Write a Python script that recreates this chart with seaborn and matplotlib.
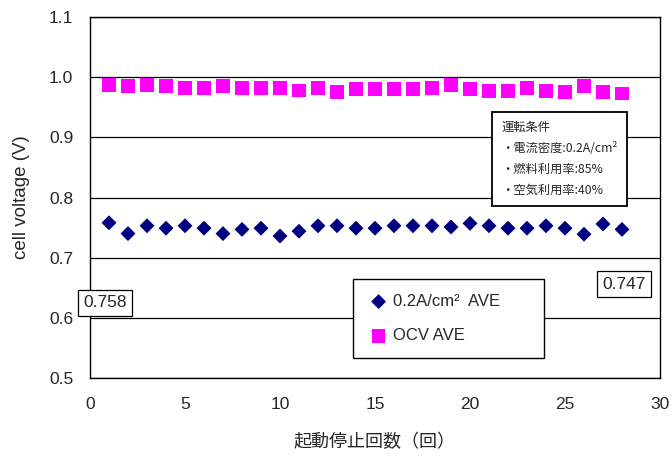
import pandas as pd
import seaborn as sns
import matplotlib.pyplot as plt

# 起動停止回数
cycles = [1, 2, 3, 4, 5, 6, 7, 8, 9, 10, 11, 12, 13, 14,
          15, 16, 17, 18, 19, 20, 21, 22, 23, 24, 25, 26, 27, 28]
# 0.2A/cm2 AVE
v_load = [0.758, 0.740, 0.753, 0.749, 0.753, 0.749, 0.740, 0.747, 0.749, 0.736,
          0.744, 0.753, 0.753, 0.749, 0.749, 0.753, 0.753, 0.753, 0.751, 0.757,
          0.753, 0.749, 0.749, 0.753, 0.749, 0.739, 0.756, 0.747]
# OCV AVE
v_ocv = [0.987, 0.985, 0.987, 0.985, 0.982, 0.982, 0.985, 0.982, 0.982, 0.982,
         0.978, 0.982, 0.975, 0.980, 0.980, 0.980, 0.980, 0.982, 0.987, 0.980,
         0.977, 0.977, 0.982, 0.977, 0.975, 0.985, 0.975, 0.973]

label_load = "0.2A/cm²  AVE"
label_ocv = "OCV AVE"
conditions = ["運転条件", "・電流密度:0.2A/cm²", "・燃料利用率:85%", "・空気利用率:40%"]

sns.set_style("white")
plt.rcParams["font.family"] = ["Liberation Sans", "Noto Sans CJK JP"]

df = pd.DataFrame({"cycle": cycles, "load": v_load, "ocv": v_ocv})

fig = plt.figure(figsize=(6.72, 4.57), dpi=100)
ax = fig.add_axes([90 / 672, 79 / 457, 570 / 672, 361 / 457])

sns.scatterplot(data=df, x="cycle", y="load", marker="D", s=58, color="#000080",
                edgecolor="none", label=label_load, ax=ax, zorder=3)
sns.scatterplot(data=df, x="cycle", y="ocv", marker="s", s=95, color="#FF00FF",
                edgecolor="none", label=label_ocv, ax=ax, zorder=3)

ax.set_xlim(0, 30)
ax.set_ylim(0.5, 1.1)
ax.set_xticks(range(0, 31, 5))
ax.set_yticks([0.5, 0.6, 0.7, 0.8, 0.9, 1.0, 1.1])
ax.set_yticklabels([f"{v:.1f}" for v in [0.5, 0.6, 0.7, 0.8, 0.9, 1.0, 1.1]])
ax.yaxis.grid(True, color="black", linewidth=0.9)
ax.set_axisbelow(True)
for s in ax.spines.values():
    s.set_color("black")
    s.set_linewidth(1.0)
ax.tick_params(axis="x", direction="in", length=5, width=0.9, pad=14, labelsize=12.5)
ax.tick_params(axis="y", direction="in", length=0, pad=12, labelsize=12.5)

ax.set_xlabel("起動停止回数（回）", fontsize=13, family=["Noto Sans CJK JP"], labelpad=15)
ax.set_ylabel("cell voltage (V)", fontsize=13.5, labelpad=14)

leg = ax.legend(loc="lower left", bbox_to_anchor=(0.461, 0.055, 0.335, 0.21), mode="expand",
                fontsize=12, frameon=True, fancybox=False, edgecolor="black", framealpha=1,
                borderpad=0.9, labelspacing=1.15, handlelength=1.3, handletextpad=0.2,
                borderaxespad=0)
leg.get_frame().set_linewidth(1.0)

box = dict(boxstyle="square,pad=0.3", facecolor="white", edgecolor="black", linewidth=0.9)
ax.text(0.026, 0.208, f"{v_load[0]:.3f}", transform=ax.transAxes, ha="center", va="center",
        fontsize=12.5, bbox=box, zorder=5, clip_on=False)
ax.text(0.937, 0.260, f"{v_load[-1]:.3f}", transform=ax.transAxes, ha="center", va="center",
        fontsize=12.5, bbox=box, zorder=5, clip_on=False)

ax.text(0.722, 0.712, "\n".join(conditions), transform=ax.transAxes, ha="left", va="top",
        fontsize=8.8, family=["Noto Sans CJK JP"], linespacing=1.8,
        bbox=dict(boxstyle="square,pad=0.75", facecolor="white", edgecolor="black", linewidth=1.3),
        zorder=5)

fig.savefig("out.png", dpi=100)
